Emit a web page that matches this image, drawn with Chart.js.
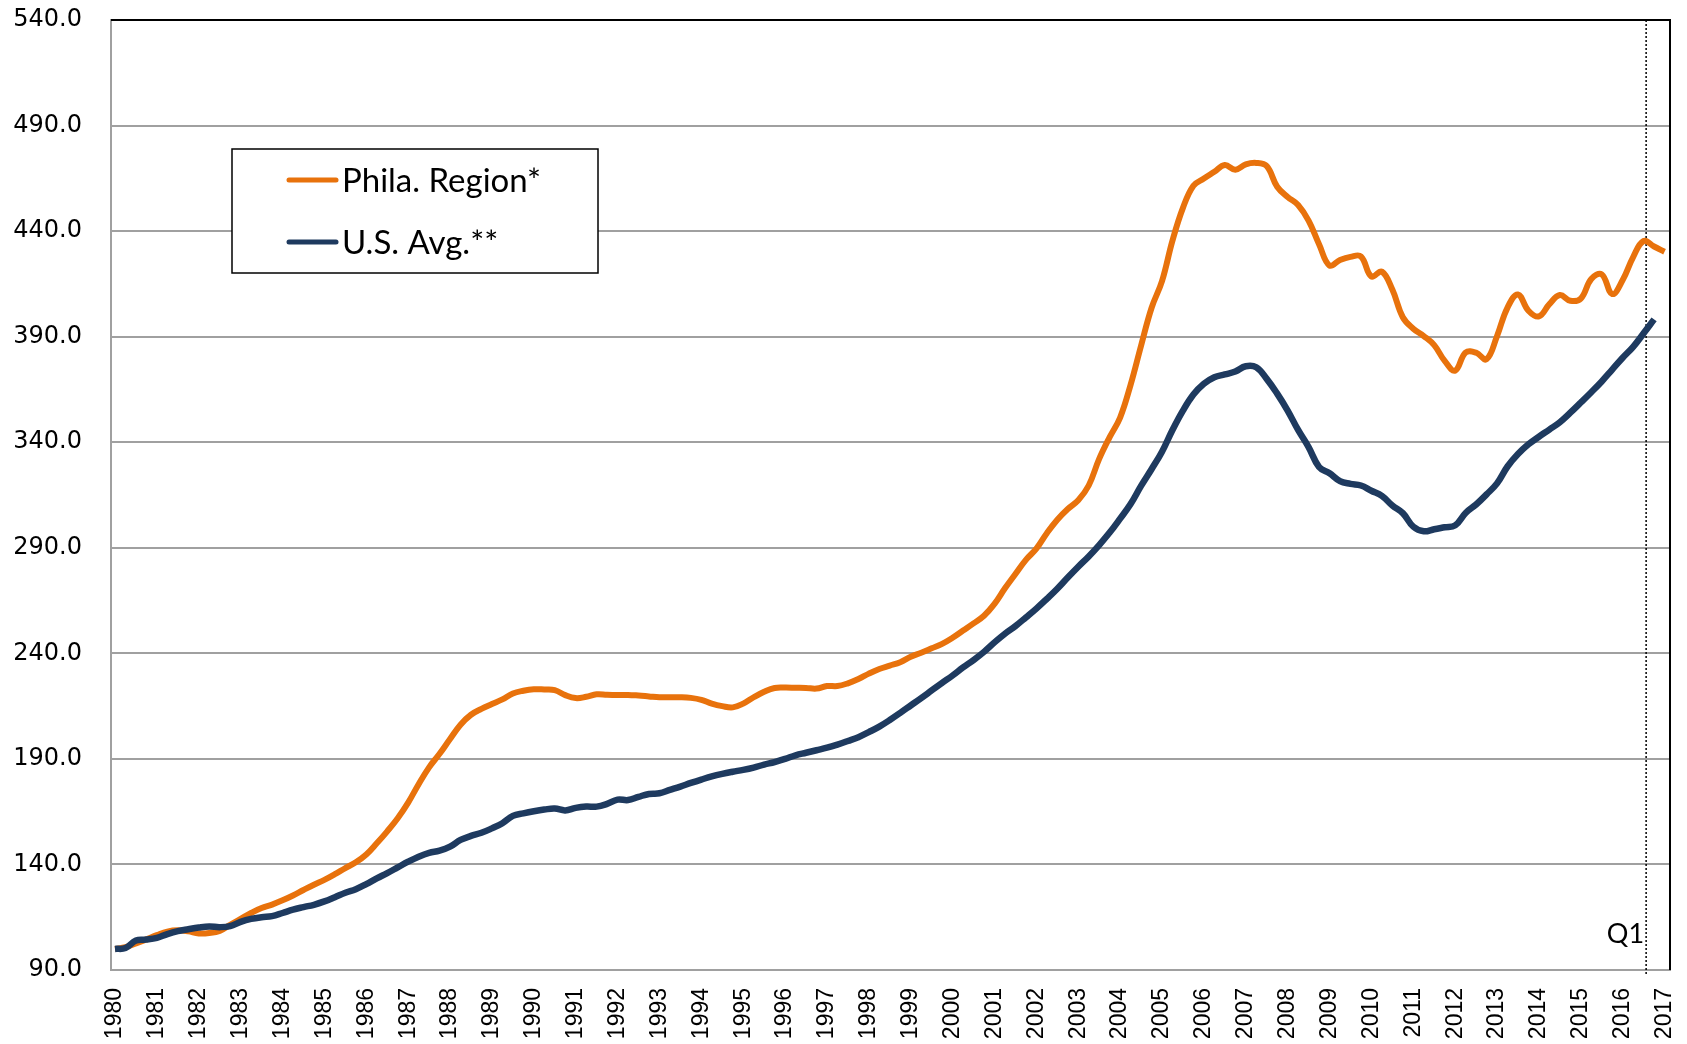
<!DOCTYPE html>
<html><head><meta charset="utf-8">
<script src="https://cdn.jsdelivr.net/npm/chart.js@4.4.1/dist/chart.umd.min.js"></script>
<style>html,body{margin:0;padding:0;background:#fff;}#wrap{width:1687px;height:1044px;}</style>
</head><body><div id="wrap"><canvas id="c" width="1687" height="1044"></canvas></div>
<script>
const yearLabels = [1980,1981,1982,1983,1984,1985,1986,1987,1988,1989,1990,1991,1992,1993,1994,1995,1996,1997,1998,1999,2000,2001,2002,2003,2004,2005,2006,2007,2008,2009,2010,2011,2012,2013,2014,2015,2016,2017];
const firstYear = 1980;
const quartersPerYear = 4;
const seriesNames = ['Phila. Region*', 'U.S. Avg.**'];
const yTicks = [90,140,190,240,290,340,390,440,490,540];
const markerYear = 2016.56;
const markerLabel = 'Q1';

const phila = [
100.0,100.8,102.6,104.5,106.5,108.2,108.8,108.3,
107.3,107.5,108.5,111.4,114.2,117.0,119.4,121.0,
123.0,125.3,127.9,130.4,132.7,135.4,138.3,141.0,
144.7,150.0,155.7,161.9,169.3,178.0,186.0,192.4,
199.4,206.2,210.9,213.7,216.0,218.2,221.0,222.3,
223.0,222.9,222.6,220.2,218.8,219.4,220.6,220.4,
220.3,220.3,220.0,219.6,219.2,219.2,219.2,218.9,
218.0,216.2,215.0,214.4,216.2,219.2,221.8,223.6,
223.8,223.7,223.6,223.3,224.5,224.5,225.8,227.8,
230.4,232.6,234.2,235.8,238.4,240.3,242.4,244.5,
247.4,250.8,254.2,257.8,263.4,270.8,277.6,284.3,
289.6,296.9,303.3,308.4,312.5,319.5,332.1,342.4,
351.7,367.2,385.7,403.6,416.3,435.5,451.0,461.5,
464.9,468.1,471.3,469.1,471.6,472.3,470.8,461.0,
456.2,452.4,445.0,433.8,423.7,426.3,427.8,428.0,
418.5,420.8,412.3,399.2,393.8,390.3,386.0,378.5,
373.9,382.5,382.4,379.3,390.3,403.8,410.0,402.3,
399.6,405.4,409.7,407.0,408.0,417.3,419.5,410.2,
416.8,427.7,435.3,432.7,430.2];

const usAvg = [
100.0,100.4,104.0,104.4,105.2,107.0,108.4,109.3,
110.1,110.6,110.3,110.8,112.8,114.2,115.0,115.5,
117.0,118.6,119.8,120.9,122.5,124.5,126.6,128.3,
130.7,133.4,135.9,138.6,141.3,143.7,145.5,146.5,
148.4,151.6,153.5,155.0,157.1,159.5,163.0,164.2,
165.2,166.0,166.5,165.6,166.8,167.4,167.4,168.7,
170.7,170.5,172.0,173.4,173.7,175.3,176.9,178.6,
180.2,181.7,182.9,183.9,184.8,185.9,187.3,188.5,
190.0,191.7,192.9,194.1,195.3,196.8,198.5,200.3,
202.7,205.3,208.4,211.8,215.3,218.8,222.4,226.0,
229.5,233.3,236.8,240.7,245.2,249.3,252.9,257.0,
261.2,265.8,270.6,275.9,281.0,285.9,291.3,297.2,
303.8,310.7,319.3,327.2,335.5,345.8,355.0,362.6,
367.7,370.8,372.1,373.5,376.0,375.5,370.0,363.0,
355.0,345.8,337.7,328.3,325.3,321.6,320.3,319.5,
317.0,314.6,310.0,306.4,300.0,297.8,298.8,299.7,
300.6,306.5,310.5,315.3,320.5,328.5,334.4,339.0,
342.6,346.0,349.5,354.0,358.8,363.7,368.8,374.4,
380.0,385.2,391.6,398.2];

const colors = ['#E8720C', '#1E3A5F'];
const toPoints = arr => arr.map((v, i) => ({x: firstYear + i / quartersPerYear, y: v}));

const framePlugin = {
  id: 'frame',
  beforeDatasetsDraw(chart) {
    const {ctx, chartArea: a, scales: {x}} = chart;
    ctx.save();
    const mx = x.getPixelForValue(markerYear);
    ctx.strokeStyle = '#000';
    ctx.lineWidth = 1.5;
    ctx.setLineDash([2, 2]);
    ctx.beginPath(); ctx.moveTo(mx, a.top); ctx.lineTo(mx, a.bottom + 5); ctx.stroke();
    ctx.setLineDash([]);
    ctx.lineWidth = 2;
    ctx.beginPath(); ctx.moveTo(a.left, a.top); ctx.lineTo(a.right, a.top); ctx.lineTo(a.right, a.bottom); ctx.stroke();
    ctx.font = '27px Lato';
    ctx.fillStyle = '#000';
    ctx.textAlign = 'right';
    ctx.textBaseline = 'alphabetic';
    ctx.fillText(markerLabel, mx - 2, a.bottom - 27);
    ctx.restore();
  },
  afterDatasetsDraw(chart) {
    const {ctx, chartArea: a} = chart;
    ctx.save();
    const bx = a.left + 121, by = a.top + 129, bw = 366, bh = 124;
    ctx.fillStyle = '#fff';
    ctx.fillRect(bx, by, bw, bh);
    ctx.strokeStyle = '#000';
    ctx.lineWidth = 1.5;
    ctx.strokeRect(bx, by, bw, bh);
    chart.data.datasets.forEach((ds, k) => {
      const ly = by + 31 + k * 62;
      ctx.strokeStyle = ds.borderColor;
      ctx.lineWidth = 5;
      ctx.lineCap = 'round';
      ctx.beginPath(); ctx.moveTo(bx + 57, ly); ctx.lineTo(bx + 104, ly); ctx.stroke();
      ctx.fillStyle = '#000';
      ctx.font = '33px Lato';
      ctx.textAlign = 'left';
      ctx.textBaseline = 'alphabetic';
      ctx.fillText(ds.label, bx + 110, ly + 12);
    });
    ctx.restore();
  }
};

new Chart(document.getElementById('c'), {
  type: 'line',
  data: {
    datasets: [
      {label: seriesNames[0], data: toPoints(phila), borderColor: colors[0], backgroundColor: colors[0], borderWidth: 6, pointRadius: 0, tension: 0.4, order: 2, fill: false},
      {label: seriesNames[1], data: toPoints(usAvg), borderColor: colors[1], backgroundColor: colors[1], borderWidth: 6.5, pointRadius: 0, tension: 0.4, order: 1, fill: false}
    ]
  },
  options: {
    responsive: false,
    animation: false,
    devicePixelRatio: 1,
    layout: {padding: {top: 20, right: 17, left: 0, bottom: 0}},
    plugins: {legend: {display: false}, tooltip: {enabled: false}},
    scales: {
      x: {
        type: 'linear',
        min: 1979.9045,
        max: 2017.13,
        afterBuildTicks: s => { s.ticks = yearLabels.map(v => ({value: v})); },
        afterFit: s => { s.height = 74; s.paddingLeft = 0; s.paddingRight = 0; },
        ticks: {autoSkip: false, minRotation: 90, maxRotation: 90, padding: 18, color: '#000',
          font: {family: 'Liberation Sans', size: 23}, callback: v => String(v)},
        grid: {display: false, drawTicks: false},
        border: {display: true, color: '#a0a0a0', width: 2}
      },
      y: {
        min: 90,
        max: 540,
        afterBuildTicks: s => { s.ticks = yTicks.map(v => ({value: v})); },
        afterFit: s => { s.width = 111; s.paddingTop = 0; s.paddingBottom = 0; },
        ticks: {padding: 29, color: '#000', font: {family: 'DejaVu Sans', size: 24}, callback: v => Number(v).toFixed(1)},
        grid: {color: '#a0a0a0', lineWidth: 2, drawTicks: false},
        border: {display: true, color: '#a0a0a0', width: 2}
      }
    }
  },
  plugins: [framePlugin]
});
</script></body></html>
